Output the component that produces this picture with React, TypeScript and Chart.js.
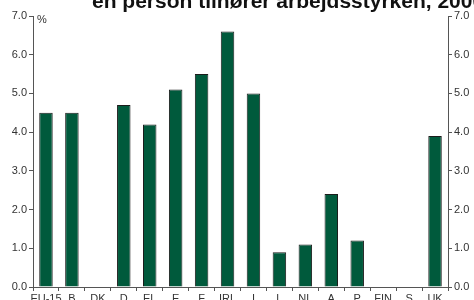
import React, { useEffect, useRef } from "react";
import { Chart, registerables } from "chart.js";

Chart.register(...registerables);

const categories = ["EU-15", "B", "DK", "D", "EL", "E", "F", "IRL", "I", "L", "NL", "A", "P", "FIN", "S", "UK"];
const values = [4.5, 4.5, 0, 4.7, 4.2, 5.1, 5.5, 6.6, 5.0, 0.9, 1.1, 2.4, 1.2, 0, 0, 3.9];
const titleText = "en person tilhører arbejdsstyrken, 2000";
const unitLabel = "%";

const W = 474;
const H = 312;

export default function App() {
  const ref = useRef<HTMLCanvasElement | null>(null);
  useEffect(() => {
    document.body.style.margin = "0";
    document.body.style.overflow = "hidden";
    const canvas = ref.current!;
    const titlePlugin = {
      id: "titleOverlay",
      afterDraw(chart: any) {
        const ctx = chart.ctx;
        ctx.save();
        ctx.fillStyle = "#111";
        ctx.font = "bold 21px 'Liberation Sans', Arial, sans-serif";
        ctx.textBaseline = "alphabetic";
        ctx.textAlign = "left";
        ctx.fillText(titleText, 92, 8);
        ctx.font = "11px 'Liberation Sans', Arial, sans-serif";
        ctx.fillStyle = "#333";
        ctx.textBaseline = "middle";
        ctx.fillText(unitLabel, chart.chartArea.left + 4, chart.chartArea.top + 4);
        ctx.restore();
      },
    };
    const font = { family: "'Liberation Sans', Arial, sans-serif", size: 11 };
    const chart = new Chart(canvas, {
      type: "bar",
      data: {
        labels: categories,
        datasets: [
          {
            data: values,
            backgroundColor: "#005a3c",
            borderColor: "#1c1c1c",
            borderWidth: 1,
            barPercentage: 0.52,
            categoryPercentage: 1,
            yAxisID: "y",
          },
        ],
      },
      options: {
        responsive: false,
        animation: false,
        layout: { padding: { top: 16, left: 0, right: 0, bottom: 0 } },
        plugins: { legend: { display: false }, tooltip: { enabled: false }, title: { display: false } },
        scales: {
          x: {
            grid: { offset: true, drawOnChartArea: false, drawTicks: true, tickLength: 4, color: "#555" },
            border: { color: "#555", width: 1 },
            ticks: { color: "#333", font, padding: 1, maxRotation: 0, autoSkip: false },
            afterFit(s: any) { s.height = H - 287; },
          },
          y: {
            position: "left",
            min: 0,
            max: 7,
            grid: { drawOnChartArea: false, drawTicks: true, tickLength: 4, color: "#555" },
            border: { color: "#555", width: 1 },
            ticks: { stepSize: 1, color: "#333", font, padding: 2, callback: (v: any) => Number(v).toFixed(1) },
            afterFit(s: any) { s.width = 33; },
          },
          y2: {
            position: "right",
            min: 0,
            max: 7,
            grid: { drawOnChartArea: false, drawTicks: true, tickLength: 4, color: "#555" },
            border: { color: "#555", width: 1 },
            ticks: { stepSize: 1, color: "#333", font, padding: 2, callback: (v: any) => Number(v).toFixed(1) },
            afterFit(s: any) { s.width = W - 448; },
          },
        },
      },
      plugins: [titlePlugin],
    });
    return () => chart.destroy();
  }, []);
  return (
    <div style={{ width: W, height: 300, overflow: "hidden", position: "relative" }}>
      <canvas ref={ref} width={W} height={H} style={{ display: "block" }} />
    </div>
  );
}
